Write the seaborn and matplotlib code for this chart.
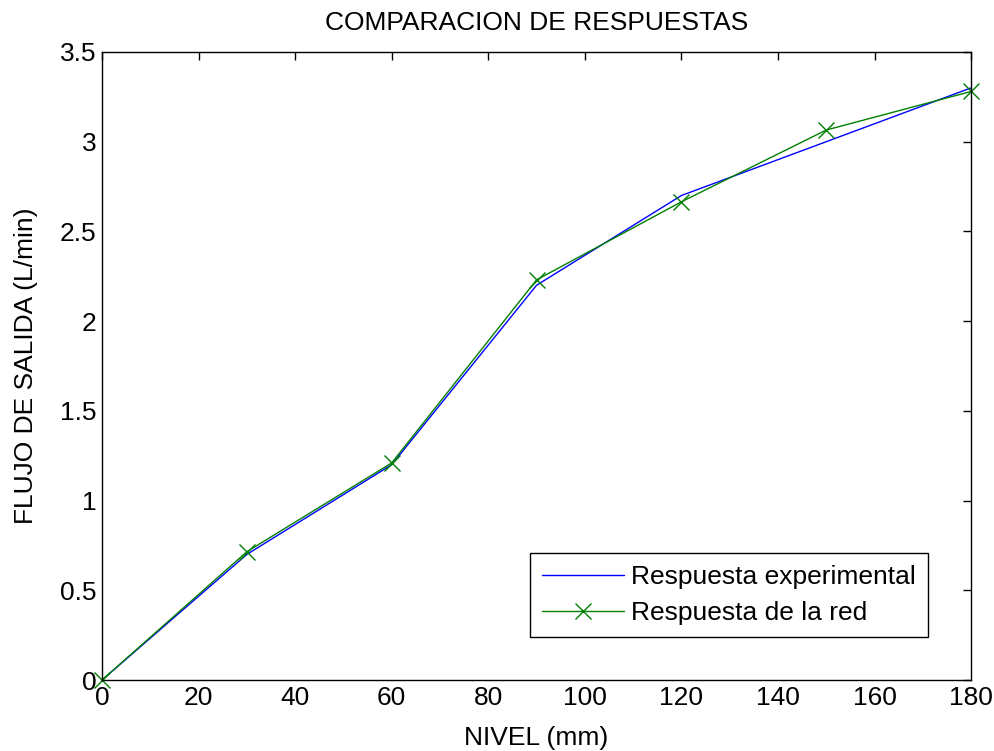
import matplotlib
matplotlib.use("Agg")
import matplotlib.pyplot as plt
import seaborn as sns
import pandas as pd
from matplotlib.ticker import FuncFormatter

nivel = [0, 30, 60, 90, 120, 150, 180]
experimental = [0.0, 0.70, 1.20, 2.20, 2.70, 3.00, 3.30]
red = [0.0, 0.715, 1.21, 2.23, 2.665, 3.065, 3.28]
series_names = ["Respuesta experimental", "Respuesta de la red"]
colors = {series_names[0]: "#0000ff", series_names[1]: "#008000"}

sns.set_style("white")
plt.rcParams['font.family'] = ['Liberation Sans', 'DejaVu Sans']
plt.rcParams['text.color'] = 'black'
plt.rcParams['axes.labelcolor'] = 'black'

df = pd.concat([
    pd.DataFrame({"nivel": nivel, "flujo": experimental, "serie": series_names[0]}),
    pd.DataFrame({"nivel": nivel, "flujo": red, "serie": series_names[1]}),
])

fig = plt.figure(figsize=(9.95, 7.51), dpi=100)
fig.patch.set_facecolor("white")
ax = fig.add_axes([0.1025, 0.0945, 0.8735, 0.8363])

sns.lineplot(data=df, x="nivel", y="flujo", hue="serie", style="serie",
             palette=colors,
             markers={series_names[0]: "", series_names[1]: "x"},
             dashes=False, linewidth=1.0, markersize=12, markeredgewidth=1.0,
             ax=ax, legend=True)
for ln in ax.lines:
    ln.set_markeredgecolor(ln.get_color())
    ln.set_clip_on(False)

ax.set_xlim(0, 180)
ax.set_ylim(0, 3.5)
ax.set_xticks(range(0, 181, 20))
ax.set_yticks([i * 0.5 for i in range(8)])
fmt = FuncFormatter(lambda v, p: "%g" % v)
ax.xaxis.set_major_formatter(fmt)
ax.yaxis.set_major_formatter(fmt)
ax.tick_params(direction="in", top=True, right=True, length=6, width=1.0,
               labelsize=19, colors="black", pad=4)
for s in ax.spines.values():
    s.set_color("black")
    s.set_linewidth(1.0)

ax.set_title("COMPARACION DE RESPUESTAS", fontsize=19, pad=16, color="black")
ax.set_xlabel("NIVEL (mm)", fontsize=19, labelpad=12)
ax.set_ylabel("FLUJO DE SALIDA (L/min)", fontsize=19)
ax.yaxis.set_label_coords(-0.0737, 0.5)

handles, labels = ax.get_legend_handles_labels()
for h in handles:
    h.set_markeredgecolor(h.get_color())
leg = ax.legend(handles, labels, loc="lower right", bbox_to_anchor=(0.9505, 0.0685),
                borderaxespad=0, fontsize=19, handlelength=3.1, fancybox=False,
                framealpha=1, edgecolor="black", borderpad=0.45, labelspacing=0.45,
                handletextpad=0.3)
leg.get_frame().set_linewidth(1.0)
leg.set_zorder(5)

fig.savefig("out.png", dpi=100, facecolor="white")
